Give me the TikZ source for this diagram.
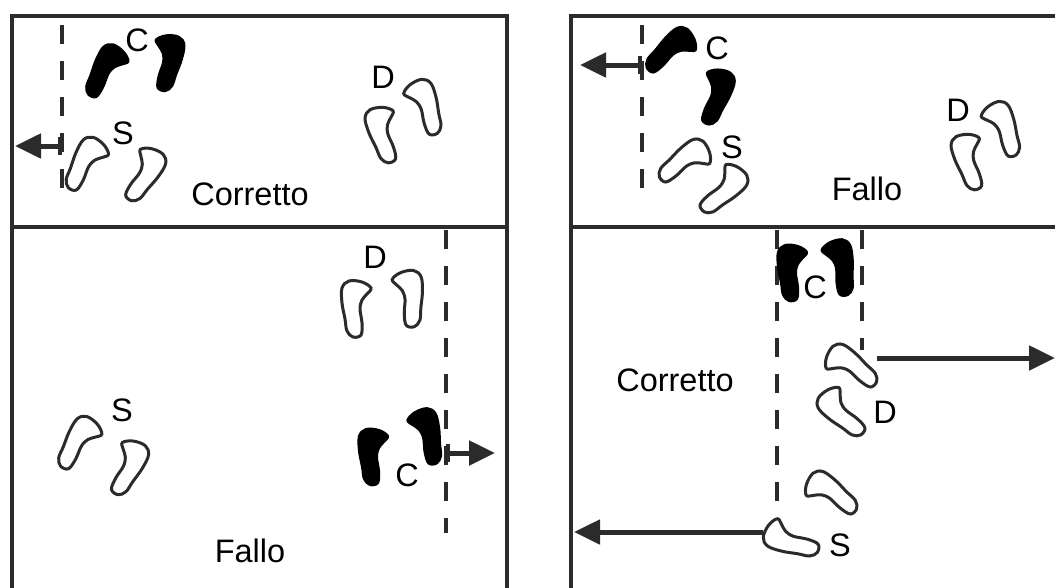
\documentclass[tikz,border=0pt]{standalone}
\usepackage{fontspec}
\setmainfont{Liberation Sans}
\usetikzlibrary{arrows.meta}
\definecolor{ink}{RGB}{45,42,42}
\tikzset{
  frame/.style={draw=ink, line width=4pt},
  guide/.style={draw=ink, line width=3.3pt, dash pattern=on 19pt off 17pt},
  push/.style={draw=ink, fill=ink, line width=5pt, -{Triangle[length=26pt,width=24pt]}},
  pushbar/.style={draw=ink, fill=ink, line width=5pt, {Bar[width=18pt,line width=4pt]}-{Triangle[length=26pt,width=24pt]}},
  print/.style={draw=ink, line width=3pt, fill=white},
  shoe/.style={draw=black, line width=2pt, fill=black},
  lbl/.style={font=\fontsize{32.5}{32.5}\selectfont, inner sep=0pt, text=black},
  lfoot/.style={xscale=-1},
  foot/.pic={\path[pic actions] plot[smooth cycle, tension=0.6] coordinates
    {(-15,-21) (-6,-27) (7,-28) (14,-21) (14,-6) (11,10) (9,22) (3,28) (-5,26) (-6,14) (-4,0) (-6,-9) (-11,-15)};}
}
\begin{document}
\begin{tikzpicture}[x=1pt, y=-1pt]
\useasboundingbox (0,0) rectangle (1055,587);
\clip (0,0) rectangle (1055,587);

% court frames
\draw[frame] (12,600) -- (12,16) -- (507,16) -- (507,600);
\draw[frame] (12,227) -- (507,227);
\draw[frame] (571,600) -- (571,16) -- (1070,16);
\draw[frame] (571,227) -- (1070,227);

% ---------- top left: Corretto ----------
\coordinate (tlg1) at (62,25);
\coordinate (tlg2) at (62,192);
\draw[guide] (tlg1) -- (tlg2);
\coordinate (tla0) at (62,146);
\coordinate (tla1) at (15,146);
\draw[pushbar] (tla0) -- (tla1);
\pic[shoe, rotate=-30, lfoot] (tlCl) at (105,72) {foot};
\pic[shoe, rotate=-10] (tlCr) at (167,63) {foot};
\pic[print, rotate=-30, lfoot] (tlSl) at (85,165) {foot};
\pic[print, rotate=-30] (tlSr) at (143,175) {foot};
\pic[print, rotate=15, lfoot] (tlDl) at (384,135) {foot};
\pic[print, rotate=20] (tlDr) at (425,108) {foot};
\node[lbl] (tlC) at (137,40) {C};
\node[lbl] (tlS) at (123,133) {S};
\node[lbl] (tlD) at (383,77) {D};
\node[lbl] (tlT) at (250,194) {Corretto};

% ---------- top right: Fallo ----------
\coordinate (trg1) at (642,25);
\coordinate (trg2) at (642,192);
\draw[guide] (trg1) -- (trg2);
\coordinate (tra0) at (642,65);
\coordinate (tra1) at (580,65);
\draw[pushbar] (tra0) -- (tra1);
\pic[shoe, rotate=-50, lfoot] (trCl) at (670,52) {foot};
\pic[shoe, rotate=-18] (trCr) at (715,97) {foot};
\pic[print, rotate=-55, lfoot] (trSl) at (684,163) {foot};
\pic[print, rotate=-45] (trSr) at (722,190) {foot};
\pic[print, rotate=15, lfoot] (trDl) at (970,162) {foot};
\pic[print, rotate=22] (trDr) at (1003,130) {foot};
\node[lbl] (trC) at (717,48) {C};
\node[lbl] (trS) at (732,147) {S};
\node[lbl] (trD) at (958,110) {D};
\node[lbl] (trT) at (867,189) {Fallo};

% ---------- bottom left: Fallo ----------
\coordinate (blg1) at (446,230);
\coordinate (blg2) at (446,533);
\draw[guide] (blg1) -- (blg2);
\coordinate (bla0) at (446,453);
\coordinate (bla1) at (495,453);
\draw[pushbar] (bla0) -- (bla1);
\pic[print, rotate=0, lfoot] (blDl) at (356,309) {foot};
\pic[print, rotate=5] (blDr) at (409,299) {foot};
\pic[print, rotate=-32, lfoot] (blSl) at (78,444) {foot};
\pic[print, rotate=-25] (blSr) at (127,468) {foot};
\pic[shoe, rotate=0, lfoot] (blCl) at (373,457) {foot};
\pic[shoe, rotate=14] (blCr) at (427,437) {foot};
\node[lbl] (blD) at (375,257) {D};
\node[lbl] (blS) at (122,410) {S};
\node[lbl] (blC) at (407,475) {C};
\node[lbl] (blT) at (250,551) {Fallo};

% ---------- bottom right: Corretto ----------
\coordinate (brg1) at (777,230);
\coordinate (brg2) at (777,523);
\draw[guide] (brg1) -- (brg2);
\coordinate (brh1) at (862,230);
\coordinate (brh2) at (862,350);
\draw[guide] (brh1) -- (brh2);
\pic[shoe, rotate=0, lfoot] (brCl) at (792,273) {foot};
\pic[shoe, rotate=10] (brCr) at (840,268) {foot};
\pic[print, rotate=55] (brDr) at (852,368) {foot};
\pic[print, rotate=45, lfoot] (brDl) at (843,413) {foot};
\pic[print, rotate=55] (brSr) at (832,495) {foot};
\pic[print, rotate=70, lfoot] (brSl) at (792,540) {foot};
\coordinate (bra0) at (877,358);
\coordinate (bra1) at (1055,358);
\draw[push] (bra0) -- (bra1);
\coordinate (brb0) at (763,532);
\coordinate (brb1) at (574,532);
\draw[push] (brb0) -- (brb1);
\node[lbl] (brC) at (815,287) {C};
\node[lbl] (brD) at (885,412) {D};
\node[lbl] (brS) at (840,545) {S};
\node[lbl] (brT) at (675,380) {Corretto};
\end{tikzpicture}
\end{document}
